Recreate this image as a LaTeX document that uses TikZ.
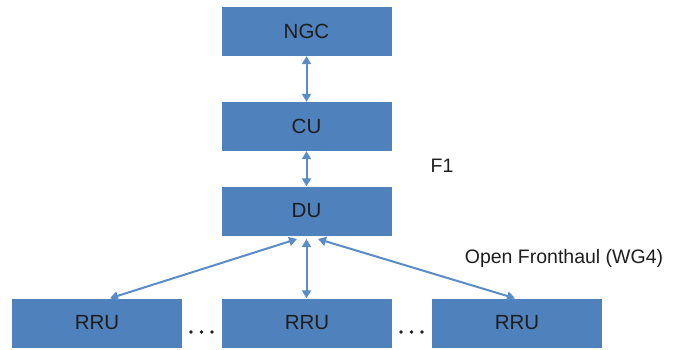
\documentclass[tikz,border=0pt]{standalone}
\usepackage{fontspec}
\setmainfont{Liberation Sans}
\usetikzlibrary{arrows.meta}
\definecolor{boxblue}{HTML}{4F81BD}
\definecolor{linkblue}{HTML}{5A8CC8}
\definecolor{labelgray}{HTML}{1E1E1E}
\begin{document}
\begin{tikzpicture}[x=1pt,y=-1pt,
  unit/.style={fill=boxblue, draw=none, minimum width=170pt, minimum height=49pt,
    inner sep=0pt, text=labelgray, font=\fontsize{20.5}{24}\selectfont},
  link/.style={draw=linkblue, line width=2pt,
    {Triangle[length=8pt,width=9pt]}-{Triangle[length=8pt,width=9pt]}},
  note/.style={text=labelgray, inner sep=0pt, font=\fontsize{19.5}{23}\selectfont},
  dot/.style={fill=labelgray}]
  \useasboundingbox (0,0) rectangle (676,349);
  % core chain
  \node[unit] (ngc) at (306.5,31.5) {NGC};
  \node[unit] (cu)  at (306.5,126.5) {CU};
  \node[unit] (du)  at (306.5,211) {DU};
  % radio units
  \node[unit] (rru1) at (97,323) {RRU};
  \node[unit] (rru2) at (307,323) {RRU};
  \node[unit] (rru3) at (517,323) {RRU};
  % interface labels
  \node[note] (f1) at (442,166) {F1};
  \node[note] (ofh) at (564,258) {Open Fronthaul (WG4)};
  % ellipses between radio units
  \foreach \x in {191,201.5,212, 401,411.5,422}
    \fill[dot] (\x,332) circle (1.9);
  % links
  \coordinate (duL) at (297,239);
  \coordinate (duM) at (306.5,239);
  \coordinate (duR) at (318,239);
  \draw[link] (ngc.south) -- (cu.north);
  \draw[link] (cu.south) -- (du.north);
  \draw[link] (duL) -- (rru1.north -| 110,0);
  \draw[link] (duM) -- (rru2.north -| duM);
  \draw[link] (duR) -- (rru3.north -| 515,0);
\end{tikzpicture}
\end{document}
